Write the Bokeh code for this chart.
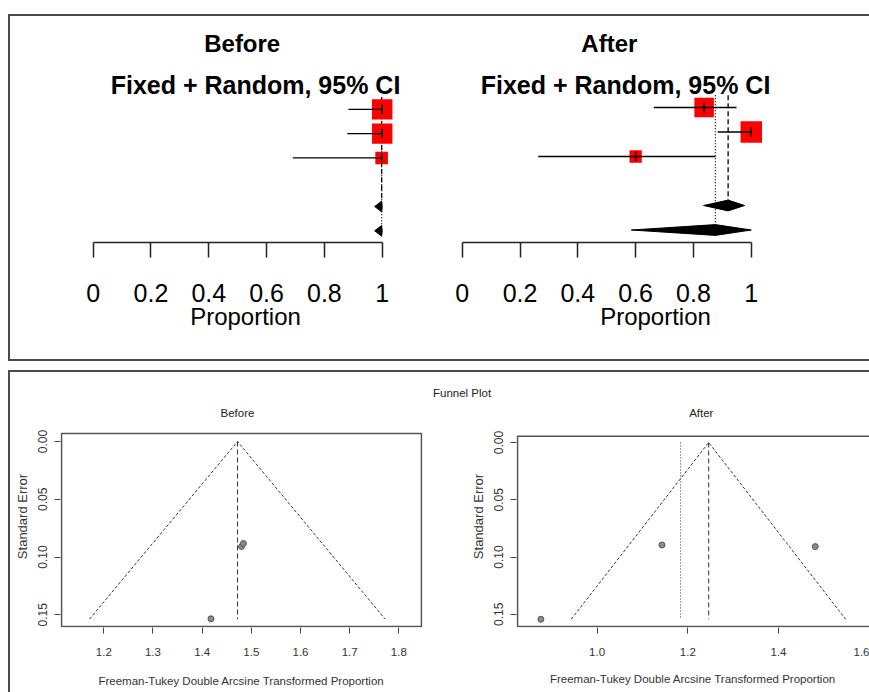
import numpy as np
from bokeh.plotting import figure
from bokeh.layouts import column, row
from bokeh.models import Range1d, FixedTicker, Label, Div, Spacer, NumeralTickFormatter
from bokeh.embed import file_html
from bokeh.resources import INLINE

# ---------------- forest plot data (proportions) ----------------
study_rows = [1, 2, 3]
fixed_row = 5
random_row = 6

before_est = [1.000, 1.000, 0.998]
before_lower = [0.883, 0.879, 0.691]
before_upper = [1.000, 1.000, 1.000]
before_weight = [42.0, 42.0, 16.0]
before_fixed = [0.974, 0.998, 1.000]    # lower, estimate, upper
before_random = [0.974, 0.998, 1.000]

after_est = [0.837, 1.000, 0.600]
after_lower = [0.663, 0.884, 0.263]
after_upper = [0.949, 1.000, 0.876]
after_weight = [38.4, 46.4, 15.2]
after_fixed = [0.835, 0.920, 0.977]
after_random = [0.585, 0.876, 1.000]

prop_ticks = [0, 0.2, 0.4, 0.6, 0.8, 1]
prop_tick_labels = ["0", "0.2", "0.4", "0.6", "0.8", "1"]

# ---------------- funnel plot data (FT transformed) ----------------
before_ft = [1.480, 1.484, 1.418]
before_se = [0.0909, 0.0883, 0.1535]
before_ft_fixed = 1.472
before_ft_random = 1.472
before_funnel_x = [1.171, 1.472, 1.772]
before_funnel_se = [0.1537, 0.0, 0.1537]
before_xlim = [1.11397, 1.84612]
before_selim = [-0.00692, 0.16013]

after_ft = [1.143, 1.481, 0.876]
after_se = [0.0895, 0.0909, 0.1543]
after_ft_fixed = 1.246
after_ft_random = 1.184
after_funnel_x = [0.943, 1.246, 1.548]
after_funnel_se = [0.1543, 0.0, 0.1543]
after_xlim = [0.82445, 1.6152]
after_selim = [-0.00545, 0.16064]

before_x_ticks = [1.2, 1.3, 1.4, 1.5, 1.6, 1.7, 1.8]
after_x_ticks = [1.0, 1.2, 1.4, 1.6]
se_ticks = [0.0, 0.05, 0.10, 0.15]

FONT = "Liberation Sans"
BORDER = "2px solid #4a4a4a"


def forest(est, lower, upper, weight, fixed, random, title, *, width, height,
           xr, yr, mb, title_xy, sub_xy):
    p = figure(width=width, height=height, x_range=Range1d(*xr), y_range=Range1d(*yr),
               output_backend="svg", toolbar_location=None, y_axis_location=None,
               min_border_left=mb[0], min_border_right=mb[1],
               min_border_top=mb[2], min_border_bottom=mb[3])
    p.grid.visible = False
    p.outline_line_color = None

    h = 0.22
    # reference lines (fixed dashed, random dotted)
    p.segment(x0=[fixed[1]], y0=[0.5], x1=[fixed[1]], y1=[fixed_row - h],
              line_color="black", line_width=1.3, line_dash="5 3")
    p.segment(x0=[random[1]], y0=[0.5], x1=[random[1]], y1=[random_row - h],
              line_color="black", line_width=1.3, line_dash="1 2")

    sizes = [3.15 * np.sqrt(w) for w in weight]
    p.scatter(x=est, y=study_rows, marker="square", size=sizes,
              fill_color="#ff0000", line_color=None)
    p.segment(x0=lower, y0=study_rows, x1=upper, y1=study_rows,
              line_color="black", line_width=1.3)
    p.segment(x0=est, y0=[r - 0.2 for r in study_rows], x1=est,
              y1=[r + 0.2 for r in study_rows], line_color="black", line_width=1.5)

    xs = [[fixed[0], fixed[1], fixed[2], fixed[1]],
          [random[0], random[1], random[2], random[1]]]
    ys = [[fixed_row, fixed_row - h, fixed_row, fixed_row + h],
          [random_row, random_row - h, random_row, random_row + h]]
    p.patches(xs=xs, ys=ys, fill_color="black", line_color="black", line_width=1)

    ax = p.xaxis[0]
    ax.ticker = FixedTicker(ticks=prop_ticks)
    ax.major_label_overrides = dict(zip(prop_ticks, prop_tick_labels))
    ax.bounds = (0, 1)
    ax.axis_line_color = "#222222"
    ax.axis_line_width = 1.5
    ax.major_tick_line_color = "#222222"
    ax.major_tick_line_width = 1.5
    ax.major_tick_out = 15
    ax.major_tick_in = 0
    ax.minor_tick_out = 0
    ax.minor_tick_in = 0
    ax.major_label_text_font = FONT
    ax.major_label_text_font_size = "25px"
    ax.major_label_text_color = "black"
    ax.major_label_standoff = 26
    ax.axis_label = "Proportion"
    ax.axis_label_text_font = FONT
    ax.axis_label_text_font_size = "24px"
    ax.axis_label_text_font_style = "normal"
    ax.axis_label_text_color = "black"
    ax.axis_label_standoff = -2

    p.add_layout(Label(x=title_xy[0], y=title_xy[1], text=title, text_font=FONT,
                       text_font_size="24px", text_font_style="bold",
                       text_color="black", text_align="center",
                       text_baseline="middle"))
    p.add_layout(Label(x=sub_xy[0], y=sub_xy[1], text="Fixed + Random, 95% CI",
                       text_font=FONT, text_font_size="25px", text_font_style="bold",
                       text_color="black", text_align="center",
                       text_baseline="middle"))
    return p


def funnel(ft, se, f_x, f_se, fixed, random, xticks, xlim, selim, title, *, width,
           height, xr, yr, mb, title_xy, xlab_standoff):
    p = figure(width=width, height=height, x_range=Range1d(*xr), y_range=Range1d(*yr),
               output_backend="svg", toolbar_location=None,
               min_border_left=mb[0], min_border_right=mb[1],
               min_border_top=mb[2], min_border_bottom=mb[3])
    p.grid.visible = False
    p.outline_line_color = None

    # plot-region box
    p.quad(left=[xlim[0]], right=[xlim[1]], top=[selim[0]], bottom=[selim[1]],
           fill_color=None, line_color="#555555", line_width=1.6)

    p.line(x=f_x, y=f_se, line_color="#333333", line_width=1, line_dash="3 2")
    p.segment(x0=[fixed], y0=[0], x1=[fixed], y1=[max(f_se)],
              line_color="#333333", line_width=1, line_dash="5 3")
    if random != fixed:
        p.segment(x0=[random], y0=[0], x1=[random], y1=[max(f_se)],
                  line_color="#333333", line_width=1, line_dash="1 2")
    p.scatter(x=ft, y=se, size=6, fill_color="#8a8a8a", line_color="#555555",
              line_width=1)

    for ax in (p.xaxis[0], p.yaxis[0]):
        ax.axis_line_color = None
        ax.major_tick_out = 6
        ax.major_tick_in = 0
        ax.minor_tick_out = 0
        ax.minor_tick_in = 0
        ax.major_tick_line_color = "#444444"
        ax.major_label_text_font = FONT
        ax.major_label_text_color = "#333333"
        ax.axis_label_text_font = FONT
        ax.axis_label_text_font_style = "normal"
        ax.axis_label_text_color = "#333333"

    xa = p.xaxis[0]
    xa.ticker = FixedTicker(ticks=xticks)
    xa.formatter = NumeralTickFormatter(format="0.0")
    xa.major_label_text_font_size = "11.5px"
    xa.major_label_standoff = 14
    xa.axis_label = "Freeman-Tukey Double Arcsine Transformed Proportion"
    xa.axis_label_text_font_size = "11.5px"
    xa.axis_label_standoff = xlab_standoff

    ya = p.yaxis[0]
    ya.ticker = FixedTicker(ticks=se_ticks)
    ya.formatter = NumeralTickFormatter(format="0.00")
    ya.major_label_orientation = "vertical"
    ya.major_label_text_font_size = "12px"
    ya.major_label_standoff = 7
    ya.axis_label = "Standard Error"
    ya.axis_label_text_font_size = "13px"
    ya.axis_label_standoff = 6

    p.add_layout(Label(x=title_xy[0], y=title_xy[1], text=title, text_font=FONT,
                       text_font_size="11.5px", text_color="#222222",
                       text_align="center", text_baseline="middle"))
    return p


f_tl = forest(before_est, before_lower, before_upper, before_weight, before_fixed,
              before_random, "Before", width=430, height=343,
              xr=(-0.0785, 1.1325), yr=(6.4816, -2.8245), mb=(60, 20, 0, 115),
              title_xy=(0.5156, -1.708), sub_xy=(0.5616, 0.006))
f_tr = forest(after_est, after_lower, after_upper, after_weight, after_fixed,
              after_random, "After", width=429, height=343,
              xr=(-0.0405, 1.378), yr=(6.5102, -2.7143), mb=(10, 9, 0, 117),
              title_xy=(0.509, -1.618), sub_xy=(0.565, 0.09))

f_bl = funnel(before_ft, before_se, before_funnel_x, before_funnel_se, before_ft_fixed,
              before_ft_random, before_x_ticks, before_xlim, before_selim, "Before",
              width=430, height=287, xr=(1.11194, 1.84815), yr=(0.16100, -0.03116),
              mb=(50, 18, 0, 65), title_xy=(1.4719, -0.02493), xlab_standoff=16)
f_br = funnel(after_ft, after_se, after_funnel_x, after_funnel_se, after_ft_fixed,
              after_ft_random, after_x_ticks, after_xlim, after_selim, "After",
              width=429, height=287, xr=(0.82225, 1.6006), yr=(0.16150, -0.03227),
              mb=(76, 0, 0, 63), title_xy=(1.2297, -0.02604), xlab_standoff=14)

funnel_heading = Div(
    text=("<div style=\"padding-left:423px;padding-top:14px;font-family:'Liberation Sans',"
          "sans-serif;font-size:11.5px;line-height:15px;color:#222222;\">"
          "Funnel Plot</div>"),
    width=859, height=33, margin=0)

top = row(f_tl, f_tr, styles={"border-top": BORDER, "border-left": BORDER,
                              "border-bottom": BORDER})
bottom = column(funnel_heading, row(f_bl, f_br),
                styles={"border-top": BORDER, "border-left": BORDER})
stack = column(Spacer(height=14), top, Spacer(height=9), bottom)
layout = row(Spacer(width=8), stack)

open("out.html", "w").write(file_html(layout, INLINE))
